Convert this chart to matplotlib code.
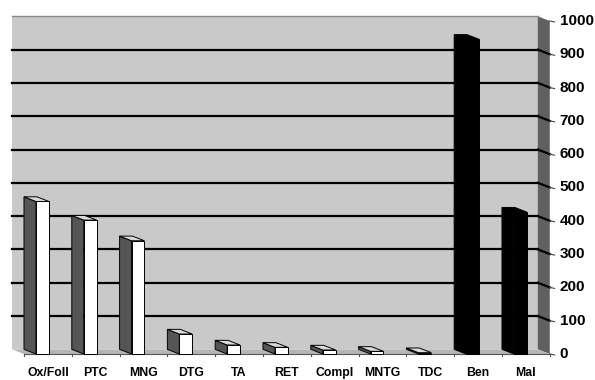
import matplotlib
matplotlib.use("Agg")
import matplotlib.pyplot as plt
from matplotlib.patches import Polygon, Rectangle

# Diagnostic categories and their case counts
diagnoses = ["Ox/Foll", "PTC", "MNG", "DTG", "TA", "RET", "Compl", "MNTG", "TDC"]
diagnosis_counts = [458, 402, 340, 60, 27, 20, 12, 8, 4]

# Final outcome totals
outcomes = ["Ben", "Mal"]
outcome_counts = [945, 426]

y_ticks = list(range(0, 1001, 100))

categories = diagnoses + outcomes
counts = diagnosis_counts + outcome_counts
n = len(categories)

plt.rcParams["font.family"] = ["Liberation Sans", "DejaVu Sans"]

fig = plt.figure(figsize=(5.95, 3.8), dpi=100)
ax = fig.add_axes([0, 0, 1, 1])
ax.set_xlim(-0.502, 11.946)
ax.set_ylim(-78.1, 1063)
ax.axis("off")

# oblique depth offset (back wall relative to front plane)
DX, DY = -0.25, 14
ymax = 1000

wall_c = "#c9c9c9"
side_c = "#606060"
floor_c = "#b5b5b5"

# back wall
ax.add_patch(Rectangle((DX, DY), n, ymax, fc=wall_c, ec="none", zorder=1))
ax.plot([DX, n + DX], [ymax + DY, ymax + DY], color="#8a8a8a", lw=1.0, zorder=2)
# right side wall
ax.add_patch(Polygon([(n + DX, DY), (n + DX, ymax + DY), (n, ymax), (n, 0)],
                     closed=True, fc=side_c, ec="none", zorder=1))
# floor
ax.add_patch(Polygon([(DX, DY), (n + DX, DY), (n, 0), (0, 0)],
                     closed=True, fc=floor_c, ec="none", zorder=1))
ax.plot([0, n], [0, 0], color="#555555", lw=0.8, zorder=2)

# gridlines on back wall and side wall, ticks and labels on the right
for v in y_ticks:
    if 0 < v < ymax:
        ax.plot([DX, n + DX], [v + DY, v + DY], color="black", lw=1.6, zorder=2)
        ax.plot([n + DX, n], [v + DY, v], color="black", lw=1.6, zorder=2)
    ax.plot([n, n + 0.1], [v, v - 3], color="#444444", lw=0.8, zorder=2)
    ax.text(n + 0.21, v, str(v), ha="left", va="center",
            fontsize=11, fontweight="bold", color="black")

# category ticks on the front floor edge
for i in range(n + 1):
    ax.plot([i, i], [0, -7], color="#555555", lw=0.8, zorder=2)

# 3D columns
x0, w = 0.25, 0.27
for i, (cat, v) in enumerate(zip(categories, counts)):
    if cat in outcomes:
        front, side, top = "black", "black", "black"
    else:
        front, side, top = "white", "#555555", "#dadada"
    left = i + x0
    right = left + w
    ax.add_patch(Polygon([(left, 0), (left, v), (left + DX, v + DY), (left + DX, DY)],
                         closed=True, fc=side, ec="black", lw=0.7, zorder=3))
    ax.add_patch(Polygon([(left, v), (right, v), (right + DX, v + DY), (left + DX, v + DY)],
                         closed=True, fc=top, ec="black", lw=0.7, zorder=3))
    ax.add_patch(Rectangle((left, 0), w, v, fc=front, ec="black", lw=0.7, zorder=4))
    ax.text(i + 0.5, -57, cat, ha="center", va="center",
            fontsize=8.8, fontweight="bold", color="black")

fig.savefig("out.png", dpi=100)
